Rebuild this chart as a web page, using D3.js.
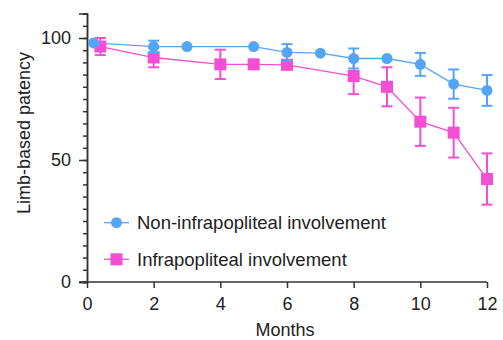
<!DOCTYPE html>
<html>
<head>
<meta charset="utf-8">
<script src="https://cdn.jsdelivr.net/npm/d3@7"></script>
<style>
  body { margin: 0; background: #fff; }
  svg text { font-family: "Liberation Sans", Arial, Helvetica, sans-serif; fill: #222; }
</style>
</head>
<body>
<div id="chart"></div>
<script>
// series data (months, patency %, error)
const nonMonths = [0.2, 2, 3, 5, 6, 7, 8, 9, 10, 11, 12];
const nonValues = [98, 96.5, 96.5, 96.5, 94.1, 93.8, 91.6, 91.6, 89.2, 81.1, 78.5];
const nonErrors = [0, 2.4, 0, 0, 3.4, 0, 4.1, 0, 4.7, 6.0, 6.3];

const infMonths = [0.4, 2, 4, 5, 6, 8, 9, 10, 11, 12];
const infValues = [96.5, 92, 89.2, 89.2, 89, 84.4, 80, 65.7, 61.2, 42.2];
const infErrors = [3.5, 4, 6, 0, 0, 7.4, 8, 9.9, 10.2, 10.5];

const xTicks = [0, 2, 4, 6, 8, 10, 12];
const yTicks = [0, 50, 100];
const yMinorTicks = d3.range(0, 111, 5);

const seriesNames = ['Non-infrapopliteal involvement', 'Infrapopliteal involvement'];

const width = 503, height = 340;
const margin = {top: 13.6, right: 16, bottom: 58, left: 87};
const blue = '#55a5f6';
const pink = '#f24fd3';
const axisColor = '#333';
const fontSize = 18;

const svg = d3.select('#chart').append('svg')
  .attr('width', width)
  .attr('height', height);

const x = d3.scaleLinear().domain([0, 12]).range([margin.left, width - margin.right]);
const y = d3.scaleLinear().domain([0, 110]).range([height - margin.bottom, margin.top]);

// y axis: minor ticks every 5, labelled majors
const yAxisG = svg.append('g')
  .attr('transform', 'translate(' + margin.left + ',0)');
yAxisG.call(d3.axisLeft(y).tickValues(yMinorTicks).tickSize(4).tickFormat(''));
yAxisG.append('g').call(d3.axisLeft(y).tickValues(yTicks).tickSize(8).tickPadding(8));
yAxisG.selectAll('.domain').attr('stroke', axisColor).attr('stroke-width', 1.5);
yAxisG.selectAll('line').attr('stroke', axisColor).attr('stroke-width', 1.5);
yAxisG.selectAll('text').attr('font-size', fontSize).attr('fill', '#222')
  .attr('font-family', '"Liberation Sans", Arial, sans-serif');

const xAxisG = svg.append('g')
  .attr('transform', 'translate(0,' + (height - margin.bottom) + ')')
  .call(d3.axisBottom(x).tickValues(xTicks).tickSize(6).tickPadding(9));
xAxisG.select('.domain').attr('stroke', axisColor).attr('stroke-width', 1.5)
  .attr('d', 'M' + (margin.left - 8) + ',0H' + x(12));
xAxisG.selectAll('line').attr('stroke', axisColor).attr('stroke-width', 1.5);
xAxisG.selectAll('text').attr('font-size', fontSize).attr('fill', '#222')
  .attr('font-family', '"Liberation Sans", Arial, sans-serif');

// axis titles
svg.append('text')
  .attr('x', (margin.left + width - margin.right) / 2 - 2)
  .attr('y', 336)
  .attr('text-anchor', 'middle')
  .attr('font-size', fontSize)
  .text('Months');

svg.append('text')
  .attr('transform', 'translate(30,' + 133 + ') rotate(-90)')
  .attr('text-anchor', 'middle')
  .attr('font-size', fontSize)
  .text('Limb-based patency');

const line = d3.line().x(d => x(d.m)).y(d => y(d.v));

function drawSeries(months, values, errors, color, shape) {
  const data = months.map((m, i) => ({m: m, v: values[i], e: errors[i]}));
  const g = svg.append('g');

  g.append('path')
    .datum(data)
    .attr('fill', 'none')
    .attr('stroke', color)
    .attr('stroke-width', 1.3)
    .attr('d', line);

  const eb = g.selectAll('.err')
    .data(data.filter(d => d.e > 0))
    .enter().append('g')
    .attr('stroke', color)
    .attr('stroke-width', 2);
  eb.append('line')
    .attr('x1', d => x(d.m)).attr('x2', d => x(d.m))
    .attr('y1', d => y(d.v + d.e)).attr('y2', d => y(d.v - d.e));
  eb.append('line')
    .attr('x1', d => x(d.m) - 5.5).attr('x2', d => x(d.m) + 5.5)
    .attr('y1', d => y(d.v + d.e)).attr('y2', d => y(d.v + d.e));
  eb.append('line')
    .attr('x1', d => x(d.m) - 5.5).attr('x2', d => x(d.m) + 5.5)
    .attr('y1', d => y(d.v - d.e)).attr('y2', d => y(d.v - d.e));

  if (shape === 'circle') {
    g.selectAll('.pt')
      .data(data)
      .enter().append('circle')
      .attr('cx', d => x(d.m))
      .attr('cy', d => y(d.v))
      .attr('r', 5.5)
      .attr('fill', color);
  } else {
    g.selectAll('.pt')
      .data(data)
      .enter().append('rect')
      .attr('x', d => x(d.m) - 6)
      .attr('y', d => y(d.v) - 6)
      .attr('width', 12)
      .attr('height', 12)
      .attr('fill', color);
  }
}

drawSeries(infMonths, infValues, infErrors, pink, 'square');
drawSeries(nonMonths, nonValues, nonErrors, blue, 'circle');

// legend
const legend = svg.append('g');
const legendRows = [
  {name: seriesNames[0], color: blue, shape: 'circle', y: 222.7},
  {name: seriesNames[1], color: pink, shape: 'square', y: 259.3}
];
legendRows.forEach(r => {
  legend.append('line')
    .attr('x1', 104).attr('x2', 129)
    .attr('y1', r.y).attr('y2', r.y)
    .attr('stroke', r.color).attr('stroke-width', 1.3);
  if (r.shape === 'circle') {
    legend.append('circle').attr('cx', 116.5).attr('cy', r.y).attr('r', 5.5).attr('fill', r.color);
  } else {
    legend.append('rect').attr('x', 110.5).attr('y', r.y - 6).attr('width', 12).attr('height', 12).attr('fill', r.color);
  }
  legend.append('text')
    .attr('x', 137)
    .attr('y', r.y + 6.5)
    .attr('font-size', 18.5)
    .text(r.name);
});
</script>
</body>
</html>
